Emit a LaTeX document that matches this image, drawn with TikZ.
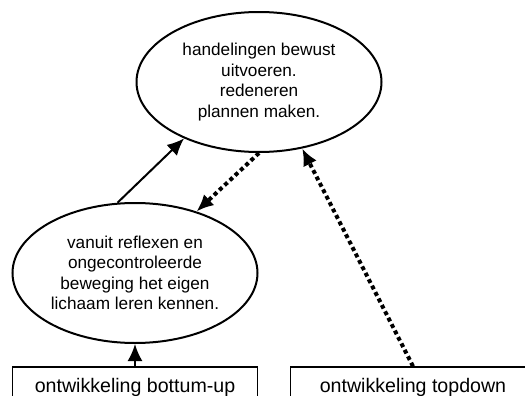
\documentclass[tikz,border=0pt]{standalone}
\usepackage{fontspec}
\setmainfont{Liberation Sans}
\usetikzlibrary{arrows.meta, shapes.geometric, positioning}

\begin{document}
\begin{tikzpicture}[x=0.5pt, y=-0.5pt,
    idea/.style={ellipse, draw, line width=1pt, minimum width=122.5pt, minimum height=70pt,
      inner sep=0pt, align=center, font=\fontsize{8.6}{10.2}\selectfont},
    phase/.style={rectangle, draw, line width=0.7pt, minimum width=122.5pt, minimum height=20pt,
      inner sep=0pt, font=\fontsize{9.8}{11}\selectfont},
    flow/.style={line width=1pt, -{Latex[length=8.5pt, width=7.5pt]}},
    hint/.style={line width=2pt, dash pattern=on 2pt off 1.6pt, -{Latex[length=8.5pt, width=7.5pt]}}]
  \useasboundingbox (0,0) rectangle (525,396);
  \clip (0,0) rectangle (525,396);
  % ellipses
  \node[idea] (conscious) at (259,82) {handelingen bewust\\uitvoeren.\\redeneren\\plannen maken.};
  \node[idea] (reflex) at (135,273) {vanuit reflexen en\\ongecontroleerde\\beweging het eigen\\lichaam leren kennen.};
  % boxes
  \node[phase] (bottomup) at (135,387) {ontwikkeling bottum-up};
  \node[phase] (topdown) at (413,387) {ontwikkeling topdown};
  % connectors
  \draw[flow] (reflex.104) -- (conscious.217);
  \draw[flow] (bottomup.north) -- (reflex.south);
  \draw[hint] (conscious.270) -- (reflex.45);
  \draw[hint] (topdown.north) -- (conscious.303);
\end{tikzpicture}
\end{document}
